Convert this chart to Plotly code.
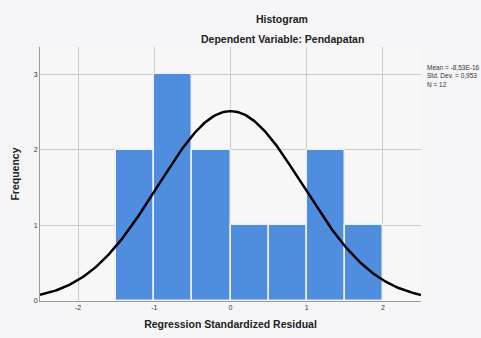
import numpy as np
import plotly.graph_objects as go

# Data
bin_starts = [-1.5, -1.0, -0.5, 0.0, 0.5, 1.0, 1.5]
bin_width = 0.5
frequencies = [2, 3, 2, 1, 1, 2, 1]
x_ticks = [-2, -1, 0, 1, 2]
y_ticks = [0, 1, 2, 3]
stat_mean = -8.53e-16
stat_sd = 0.953
stat_n = 12

centers = [s + bin_width / 2 for s in bin_starts]

# Normal curve fitted from the displayed statistics
xc = np.linspace(-2.5, 2.5, 300)
yc = stat_n * bin_width / (stat_sd * np.sqrt(2 * np.pi)) * np.exp(-0.5 * ((xc - stat_mean) / stat_sd) ** 2)

fig = go.Figure()
fig.add_trace(go.Bar(
    x=centers, y=frequencies, width=[bin_width] * len(centers),
    marker=dict(color="#4f8ddf", line=dict(color="#eef0f4", width=1.5)),
    hoverinfo="skip"))
fig.add_trace(go.Scatter(x=xc, y=yc, mode="lines",
                         line=dict(color="#000000", width=2.5), hoverinfo="skip"))

font = "Liberation Sans, Arial, sans-serif"
fig.update_layout(
    width=481, height=338,
    margin=dict(l=40, r=60, t=47, b=37),
    paper_bgcolor="#f5f5f7", plot_bgcolor="#f7f7f8",
    showlegend=False, bargap=0,
    font=dict(family=font, color="#222222", size=8),
    xaxis=dict(range=[-2.5, 2.5], tickvals=x_ticks, ticktext=[str(v) for v in x_ticks],
               showgrid=True, gridcolor="#c9c9c9", gridwidth=1, zeroline=False,
               showline=True, linecolor="#9a9a9a", linewidth=1, ticks="",
               tickfont=dict(size=7, color="#333333"), automargin=False,
               title=dict(text="<b>Regression Standardized Residual</b>",
                          font=dict(size=10.5, color="#222222"), standoff=10)),
    yaxis=dict(range=[0, 3.36], tickvals=y_ticks, ticktext=[str(v) for v in y_ticks],
               showgrid=True, gridcolor="#c9c9c9", gridwidth=1, zeroline=False,
               showline=True, linecolor="#9a9a9a", linewidth=1, ticks="",
               tickfont=dict(size=7, color="#333333"), automargin=False,
               title=dict(text="<b>Frequency</b>", font=dict(size=10.5, color="#222222"),
                          standoff=12)),
)
fig.add_annotation(text="<b>Histogram</b>", xref="paper", yref="paper",
                   x=(282 - 40) / 381, y=1 + (47 - 19) / 254, xanchor="center", yanchor="middle",
                   showarrow=False, font=dict(size=10.5, color="#222222", family=font))
fig.add_annotation(text="<b>Dependent Variable: Pendapatan</b>", xref="paper", yref="paper",
                   x=(282 - 40) / 381, y=1 + (47 - 39) / 254, xanchor="center", yanchor="middle",
                   showarrow=False, font=dict(size=10.5, color="#222222", family=font))
fig.add_annotation(text=f"Mean = -8,53E-16<br>Std. Dev. = 0,953<br>N = {stat_n}",
                   xref="paper", yref="paper", x=1 + 4 / 381, y=1 - (62 - 47) / 254,
                   xanchor="left", yanchor="top", align="left", showarrow=False,
                   font=dict(size=6.5, color="#333333", family=font))

fig.write_html("out.html", config={"displayModeBar": False},
               post_script="document.body.style.margin='0';document.body.style.overflow='hidden';")
